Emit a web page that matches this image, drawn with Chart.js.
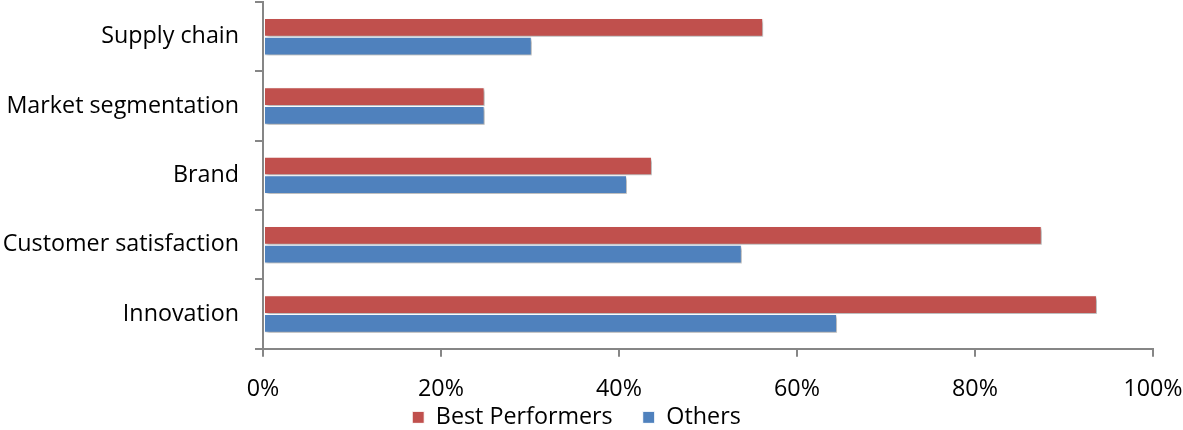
<!DOCTYPE html>
<html>
<head>
<meta charset="utf-8">
<script src="https://cdn.jsdelivr.net/npm/chart.js@4.4.1/dist/chart.umd.min.js"></script>
<style>
html,body{margin:0;padding:0;background:#fff;}
#wrap{width:1183px;height:430px;}
</style>
</head>
<body>
<div id="wrap"><canvas id="c" width="1183" height="430"></canvas></div>
<script>
const categories = ["Supply chain", "Market segmentation", "Brand", "Customer satisfaction", "Innovation"];
const bestPerformers = [56.2, 24.9, 43.7, 87.5, 93.7];
const others = [30.2, 24.9, 40.9, 53.8, 64.5];
const xTicks = [0, 20, 40, 60, 80, 100];

const shadowPlugin = {
  id: 'shadow',
  beforeDatasetsDraw(chart) {
    const ctx = chart.ctx;
    ctx.save();
    ctx.shadowColor = 'rgba(0,0,0,0.35)';
    ctx.shadowBlur = 3;
    ctx.shadowOffsetX = 2;
    ctx.shadowOffsetY = 2;
  },
  afterDatasetsDraw(chart) {
    chart.ctx.restore();
  }
};

const FONT = '"Open Sans", Lato, sans-serif';
const FS = 23.3;

new Chart(document.getElementById('c'), {
  type: 'bar',
  data: {
    labels: categories,
    datasets: [
      { label: 'Best Performers', data: bestPerformers, backgroundColor: '#C0504D', borderColor: '#ffffff', borderWidth: 1, borderSkipped: false },
      { label: 'Others', data: others, backgroundColor: '#4F81BD', borderColor: '#ffffff', borderWidth: 1, borderSkipped: false }
    ]
  },
  plugins: [shadowPlugin],
  options: {
    indexAxis: 'y',
    responsive: false,
    animation: false,
    devicePixelRatio: 1,
    layout: { padding: { top: 2, right: 30, left: 0, bottom: -9 } },
    datasets: { bar: { categoryPercentage: 0.54, barPercentage: 1.0 } },
    scales: {
      x: {
        min: 0, max: 100,
        afterBuildTicks: s => { s.ticks = xTicks.map(v => ({ value: v })); },
        afterFit: s => {
          s.height = 27; s.paddingLeft = 0; s.paddingRight = 0;
          s._computeLabelArea = () => undefined;
        },
        border: { color: '#868686', width: 2 },
        grid: { drawOnChartArea: false, tickLength: 8, color: '#868686', lineWidth: 2 },
        ticks: { callback: v => v + '%', color: '#000', font: { family: FONT, size: FS }, padding: 19, maxRotation: 0 }
      },
      y: {
        afterFit: s => { s.width = 263; s.paddingTop = 0; s.paddingBottom = 0; },
        border: { color: '#868686', width: 2 },
        grid: { drawOnChartArea: false, tickLength: 8, color: '#868686', lineWidth: 2 },
        ticks: { color: '#000', font: { family: FONT, size: FS }, padding: 16 }
      }
    },
    plugins: {
      legend: {
        position: 'bottom',
        labels: { boxWidth: 12, boxHeight: 12, color: '#000', font: { family: FONT, size: FS }, padding: 30 }
      },
      tooltip: { enabled: false }
    }
  }
});
</script>
</body>
</html>
